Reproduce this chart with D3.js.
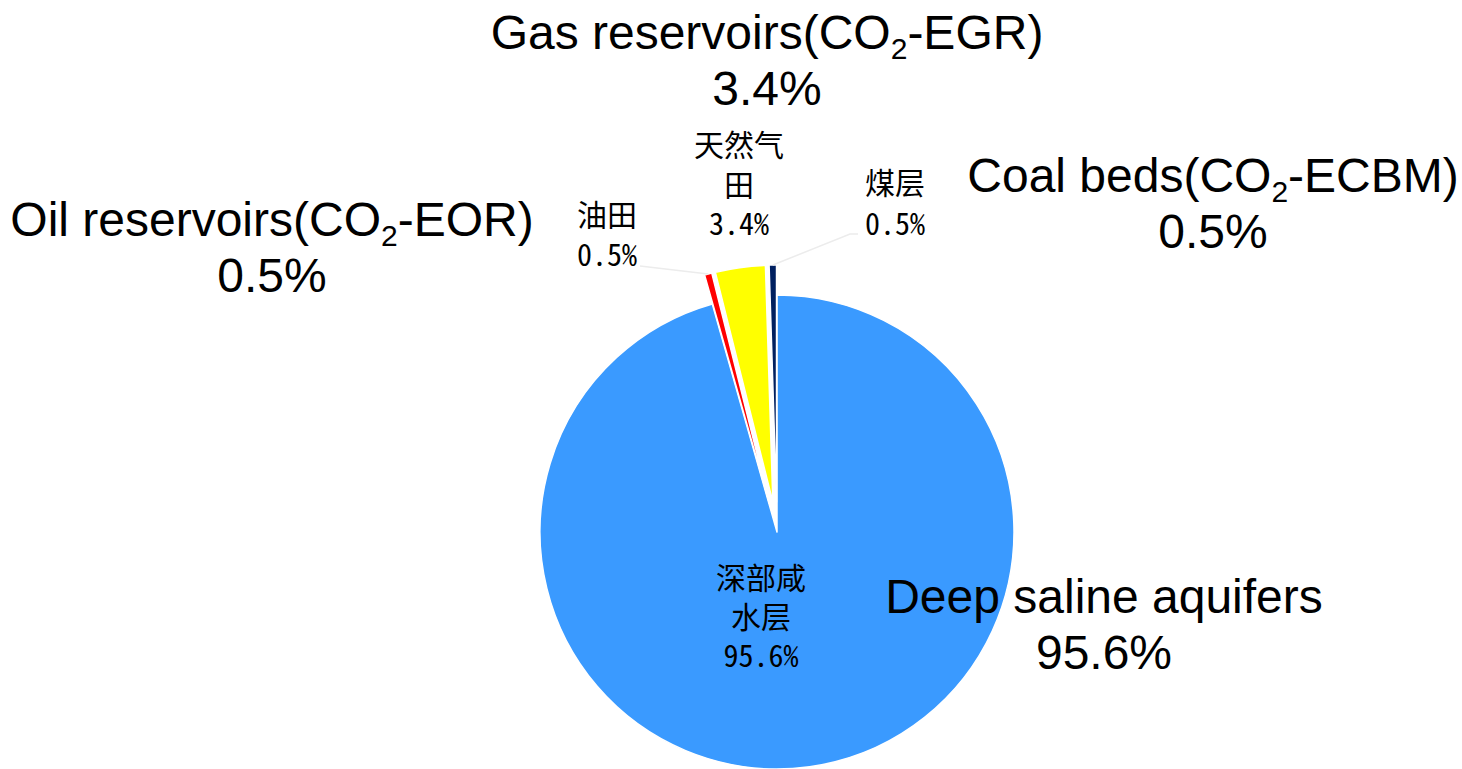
<!DOCTYPE html>
<html>
<head>
<meta charset="utf-8">
<script src="https://cdn.jsdelivr.net/npm/d3@7"></script>
<style>
  html, body { margin: 0; padding: 0; background: #fff; }
  svg { display: block; }
</style>
</head>
<body>
<svg id="chart" width="1462" height="769"></svg>
<script>
// Share of CO2 storage capacity by reservoir type (%)
const categories = ["saline", "oil", "gas", "coal"];
const shares = [95.6, 0.5, 3.4, 0.5];
const namesEn = ["Deep saline aquifers", "Oil reservoirs(CO|2|-EOR)", "Gas reservoirs(CO|2|-EGR)", "Coal beds(CO|2|-ECBM)"];
const namesZh = [["深部咸", "水层"], ["油田"], ["天然气", "田"], ["煤层"]];
const colors = ["#3a9aff", "#ff0000", "#ffff00", "#002060"];
const exploded = [false, true, true, true];

const svg = d3.select("#chart");
const cx = 777, cy = 532, radius = 237, explode = 30;

const pie = d3.pie().sort(null).value(d => d.value).startAngle(0).endAngle(2 * Math.PI);
const data = categories.map((c, i) => ({ key: c, value: shares[i], i }));
const arcs = pie(data);
const arc = d3.arc().innerRadius(0).outerRadius(radius);

const g = svg.append("g").attr("transform", `translate(${cx},${cy})`);

function offset(a, r) {
  const m = (a.startAngle + a.endAngle) / 2;
  return [r * Math.sin(m), -r * Math.cos(m)];
}

g.selectAll("path.slice")
  .data(arcs)
  .join("path")
  .attr("class", "slice")
  .attr("d", arc)
  .attr("fill", d => colors[d.data.i])
  .attr("stroke", "#fff")
  .attr("stroke-width", 1.5)
  .attr("stroke-linejoin", "round")
  .attr("transform", d => {
    const [dx, dy] = exploded[d.data.i] ? offset(d, explode) : [0, 0];
    return `translate(${dx},${dy})`;
  });

// leader lines from small labels to their slices
const leaders = [
  { i: 1, from: [[640 - cx, 266 - cy]] },
  { i: 3, from: [[858 - cx, 234 - cy], [850 - cx, 234 - cy]] }
];
leaders.forEach(l => {
  const a = arcs[l.i];
  const end = offset(a, radius + explode);
  const pts = l.from.concat([end]);
  g.append("path")
    .attr("d", d3.line()(pts))
    .attr("fill", "none")
    .attr("stroke", "#ececec")
    .attr("stroke-width", 1.5);
});

// Chinese labels near slices
const zhFont = "'Noto Sans Mono CJK SC', 'Noto Sans CJK SC', sans-serif";
const zhLabels = [
  { i: 0, x: 761, ys: [589, 628, 667] },
  { i: 1, x: 607, ys: [226, 266] },
  { i: 2, x: 739, ys: [156, 196, 235] },
  { i: 3, x: 895, ys: [194, 235] }
];
zhLabels.forEach(l => {
  const lines = namesZh[l.i].concat([shares[l.i].toFixed(1) + "%"]);
  lines.forEach((s, k) => {
    svg.append("text")
      .attr("x", l.x)
      .attr("y", l.ys[k])
      .attr("text-anchor", "middle")
      .attr("font-family", zhFont)
      .attr("font-size", 30)
      .attr("fill", "#000")
      .text(s);
  });
});

// English labels with subscript digits
const enLabels = [
  { i: 0, x: 1104, ys: [613, 669] },
  { i: 1, x: 272, ys: [236, 292] },
  { i: 2, x: 767, ys: [49, 105] },
  { i: 3, x: 1213, ys: [192, 248] }
];
enLabels.forEach(l => {
  const t = svg.append("text")
    .attr("text-anchor", "middle")
    .attr("font-family", "'Liberation Sans', Arial, sans-serif")
    .attr("font-size", 48)
    .attr("fill", "#000");
  const first = t.append("tspan").attr("x", l.x).attr("y", l.ys[0]);
  namesEn[l.i].split("|").forEach((part, k) => {
    if (k % 2 === 1) {
      first.append("tspan").attr("font-size", 30).attr("dy", 10).text(part);
    } else {
      const s = first.append("tspan").text(part);
      if (k > 0) s.attr("dy", -10);
    }
  });
  svg.append("text")
    .attr("x", l.x)
    .attr("y", l.ys[1])
    .attr("text-anchor", "middle")
    .attr("font-family", "'Liberation Sans', Arial, sans-serif")
    .attr("font-size", 48)
    .attr("fill", "#000")
    .text(shares[l.i].toFixed(1) + "%");
});
</script>
</body>
</html>
